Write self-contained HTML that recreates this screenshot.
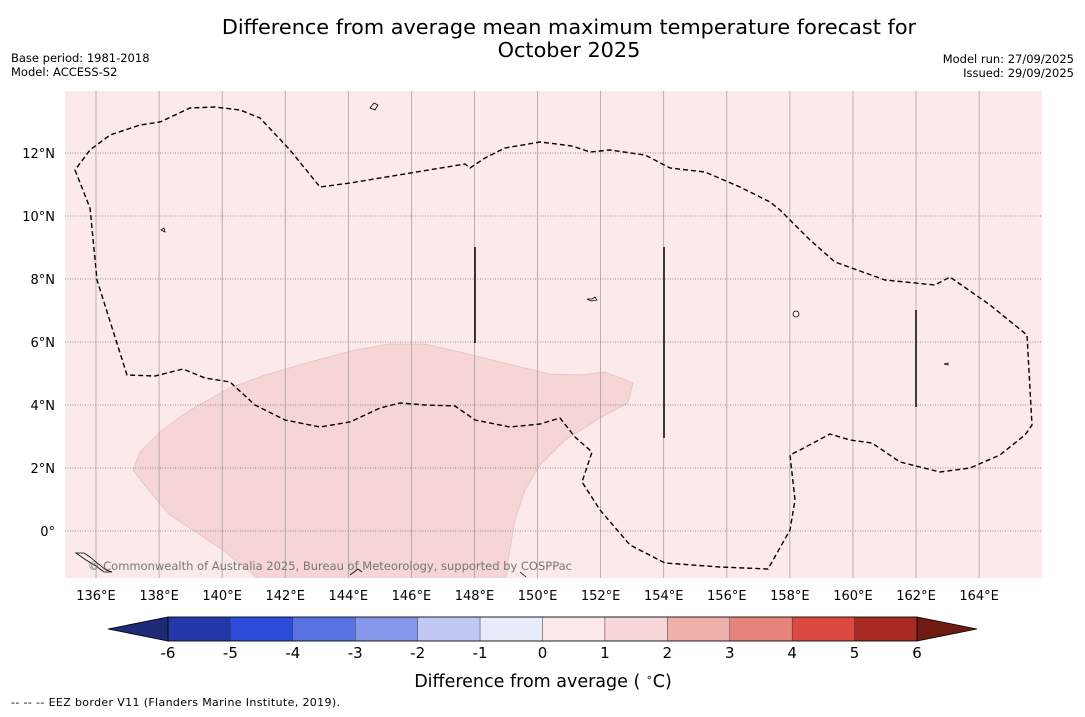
<!DOCTYPE html>
<html><head><meta charset="utf-8">
<style>
body{margin:0;background:#fff;font-family:"DejaVu Sans","Liberation Sans",sans-serif;}
svg text{font-family:"DejaVu Sans","Liberation Sans",sans-serif;}
</style></head>
<body>
<svg id="chart" width="1085" height="713" viewBox="0 0 1085 713" xmlns="http://www.w3.org/2000/svg">
<text x="569" y="34" font-size="20.8" text-anchor="middle">Difference from average mean maximum temperature forecast for</text>
<text x="569" y="57" font-size="20.8" text-anchor="middle">October 2025</text>
<text x="11" y="62" font-size="11.5">Base period: 1981-2018</text>
<text x="11" y="76" font-size="11.5">Model: ACCESS-S2</text>
<text x="1074" y="63" font-size="11.5" text-anchor="end">Model run: 27/09/2025</text>
<text x="1074" y="77" font-size="11.5" text-anchor="end">Issued: 29/09/2025</text>
<defs><clipPath id="mapclip"><rect x="65" y="91" width="977" height="487"/></clipPath></defs>
<g clip-path="url(#mapclip)">
<rect x="65" y="91" width="977" height="487" fill="#fbeae9"/>
<path d="M133,470 L140,452 L160,432 L190,410 L230,388 L265,375 L310,362 L355,350 L390,344 L425,344 L460,352 L500,362 L550,374 L580,375 L605,372 L633,383 L628,403 L600,418 L565,440 L540,465 L525,490 L515,520 L508,560 L506,580 L260,580 L220,548 L170,515 L150,492 Z" fill="#f5d5d5" stroke="#e8c0c0" stroke-width="0.8"/>
<g id="grid"></g>
<path d="M75,170 L90,208 L97,280 L127,375 L155,376 L183,369 L205,378 L230,382 L255,405 L285,420 L320,427 L350,422 L380,408 L400,403 L425,405 L455,406 L475,420 L510,427 L540,424 L560,418 L575,437 L592,452 L582,482 L600,510 L630,545 L665,563 L720,567 L768,569 L790,530 L795,500 L790,455 L800,450 L830,434 L850,440 L872,443 L900,462 L940,472 L970,468 L1000,455 L1025,435 L1032,425 L1027,335 L990,305 L950,277 L935,285 L885,280 L835,262 L810,240 L780,210 L770,202 L740,187 L705,172 L670,168 L645,155 L610,150 L590,152 L572,146 L540,142 L505,148 L485,158 L470,168 L465,164 L350,183 L320,187 L290,150 L260,118 L240,110 L215,107 L190,108 L160,122 L140,125 L110,135 L90,150 Z" fill="none" stroke="#000" stroke-width="1.4" stroke-dasharray="5,3"/>
<line x1="475" y1="247" x2="475" y2="343" stroke="#000" stroke-width="1.5"/>
<line x1="664" y1="247" x2="664" y2="438" stroke="#000" stroke-width="1.5"/>
<line x1="916" y1="310" x2="916" y2="407" stroke="#000" stroke-width="1.5"/>
<g fill="none" stroke="#000" stroke-width="0.8">
<path d="M370,108 l4,-5 l4,2 l-3,5 z"/><path d="M161,230 l3,-2 l1,4 z"/><path d="M587,299 l5,0 l3,-2 l2,3 l-6,1 z"/><path d="M793,314 a3,3 0 1,0 6,0 a3,3 0 1,0 -6,0"/><path d="M944,364 l4,-1 l0,2 z"/><path d="M76,553 l8,0 l6,4 l6,5 l10,8 l6,2 l-8,0 l-8,-6 l-10,-6 z"/><path d="M350,575 l8,-6 l4,3"/><path d="M520,572 l6,5"/>
</g>
</g>
<text x="88" y="570" font-size="11.5" fill="#777" textLength="484">© Commonwealth of Australia 2025, Bureau of Meteorology, supported by COSPPac</text>
<g id="axes"></g>
<g id="colorbar"></g>
<text x="543" y="687" font-size="17.5" text-anchor="middle">Difference from average ( <tspan font-size="11" dy="-6">∘</tspan><tspan dy="6">C)</tspan></text>
<text x="11" y="706" font-size="11" textLength="329">--  --  -- EEZ border V11 (Flanders Marine Institute, 2019).</text>
</svg>
<script>
const lonTicks=[136,138,140,142,144,146,148,150,152,154,156,158,160,162,164];
const latTicks=[0,2,4,6,8,10,12];
const cbLevels=[-6,-5,-4,-3,-2,-1,0,1,2,3,4,5,6];
const cbColors=["#2338a8","#2c4cdc","#5872e2","#8497ea","#c0c8f3","#e8ebf8","#fbeae9","#f5d5d5","#eeb0ab","#e6847c","#da4a40","#a82a22"];
const cbLow="#1c2a78", cbHigh="#701a14";
const NS="http://www.w3.org/2000/svg";
const xLon=l=>96+(l-136)*31.54;
const yLat=l=>531-l*31.5;
const grid=document.getElementById('grid'), axes=document.getElementById('axes'), cb=document.getElementById('colorbar');
function mk(t,a,p){const e=document.createElementNS(NS,t);for(const k in a)e.setAttribute(k,a[k]);p.appendChild(e);return e;}
lonTicks.forEach(l=>{
 const x=xLon(l);
 const g=mk('line',{x1:x,y1:91,x2:x,y2:578,stroke:'#999','stroke-width':0.7},grid);
 
 
 const t=mk('text',{x:x,y:600,'font-size':13,'text-anchor':'middle'},axes);
 t.textContent=l+'°E';
 
 
});
latTicks.forEach(l=>{
 const y=yLat(l);
 const g=mk('line',{x1:65,y1:y,x2:1042,y2:y,stroke:'#777','stroke-width':0.7,'stroke-dasharray':'1,1.5'},grid);
 
 
 const t=mk('text',{x:55,y:y+5,'font-size':13,'text-anchor':'end'},axes);
 t.textContent=l===0?'0°':l+'°N';
 
 
});
const cx0=168,cx1=917,cy=617,ch=24;
const cw=(cx1-cx0)/(cbLevels.length-1);
const cX=v=>cx0+(v-cbLevels[0])*cw/(cbLevels[1]-cbLevels[0]);
const lo=mk('polygon',{points:`${cx0},${cy} ${cx0},${cy+ch} 108,${cy+ch/2}`,fill:cbLow,stroke:'#000','stroke-width':0.8},cb);


const hi=mk('polygon',{points:`${cx1},${cy} ${cx1},${cy+ch} 977,${cy+ch/2}`,fill:cbHigh,stroke:'#000','stroke-width':0.8},cb);


cbColors.forEach((c,i)=>{
 const x=cX(cbLevels[i]);
 const r=mk('rect',{x:x,y:cy,width:cX(cbLevels[i+1])-x,height:ch,fill:c,stroke:'#333','stroke-width':0.4},cb);
 
 
});
mk('rect',{x:cx0,y:cy,width:cx1-cx0,height:ch,fill:'none',stroke:'#000','stroke-width':0.8},cb);
cbLevels.forEach(v=>{
 const t=mk('text',{x:cX(v),y:658,'font-size':15,'text-anchor':'middle'},cb);
 t.textContent=v;
 
 
});
</script>
</body></html>
